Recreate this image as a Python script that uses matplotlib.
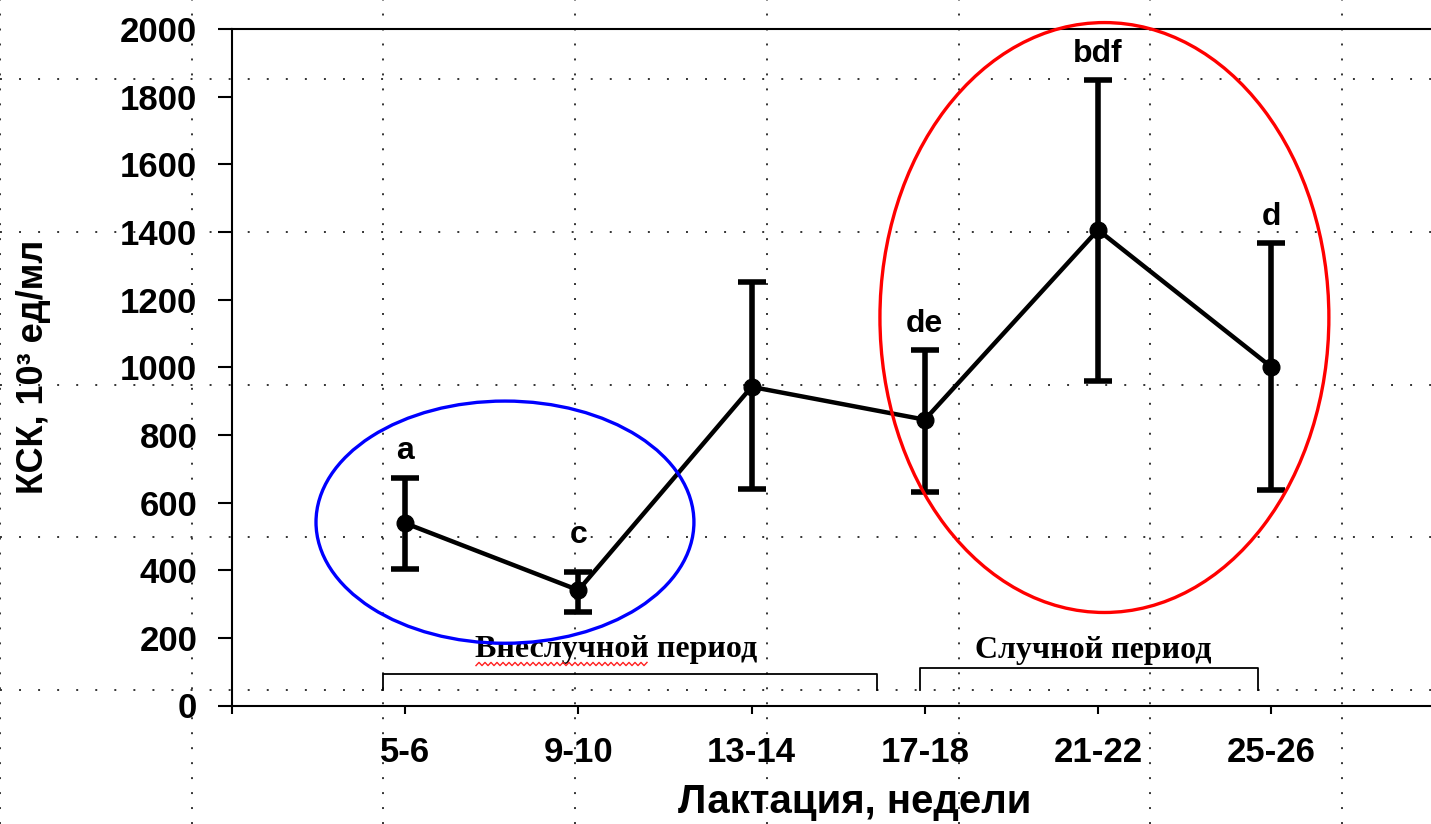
import numpy as np
import matplotlib
matplotlib.use("Agg")
import matplotlib.pyplot as plt
from matplotlib.patches import Ellipse
from matplotlib.lines import Line2D

# ---- data ----
categories = ["5-6", "9-10", "13-14", "17-18", "21-22", "25-26"]
means = [539, 341, 942, 845, 1406, 1001]
upper = [672, 395, 1252, 1050, 1849, 1367]
lower = [403, 276, 640, 631, 959, 637]
letters = ["a", "c", "", "de", "bdf", "d"]
yticks = list(range(0, 2001, 200))
period_labels = ["Внеслучной период", "Случной период"]

# ---- layout helpers ----
W, H = 1431, 824
plt.rcParams['font.family'] = ['Liberation Sans', 'DejaVu Sans']
fig = plt.figure(figsize=(W / 100, H / 100), dpi=100)

x0_px, y0_px, ytop_px, step_px = 232, 705.5, 29, 173.2
ax = fig.add_axes([x0_px / W, (H - y0_px) / H, (W - x0_px) / W, (y0_px - ytop_px) / H])
ax.set_zorder(1)
ax.patch.set_alpha(0)
ax.set_xlim(0, (W - x0_px) / step_px)
ax.set_ylim(0, 2000)

# page grid (decorative dotted lines behind the chart)
vx = np.arange(0, W, 191.7)
hy = np.arange(79, H, 152.75)
for xp in vx:
    fig.add_artist(Line2D([xp / W, xp / W], [0, 1], transform=fig.transFigure,
                          color='#333333', lw=1.4, dashes=(1, 6.7), zorder=0.2))
for yp in hy:
    fig.add_artist(Line2D([0, 1], [1 - yp / H, 1 - yp / H], transform=fig.transFigure,
                          color='#333333', lw=1.4, dashes=(1, 8.8), zorder=0.2))

x = np.arange(1, len(categories) + 1)
m = np.array(means)
yerr = [m - np.array(lower), np.array(upper) - m]
ax.errorbar(x, m, yerr=yerr, fmt='-o', color='black', lw=3.2, ms=12,
            elinewidth=4, capsize=10, capthick=4, zorder=3)

# significance letters
label_offsets = [14, 21, 12, 13, 13, 13]
for xi, up, lab, off in zip(x, upper, letters, label_offsets):
    if lab:
        ax.annotate(lab, (xi, up), xytext=(0, off), textcoords='offset points',
                    ha='center', va='baseline', fontsize=23, fontweight='bold')

# ellipses
ax.add_patch(Ellipse((1.576, 542), 2.182, 716, fill=False, edgecolor='#0000ff',
                     lw=2.4, clip_on=False, zorder=4))
ax.add_patch(Ellipse((5.037, 1147), 2.592, 1744, fill=False, edgecolor='#ff0000',
                     lw=2.4, clip_on=False, zorder=4))

# brackets
def bracket(xl, xr, ytop, ybot):
    ax.plot([xl, xl, xr, xr], [ybot, ytop, ytop, ybot], color='black', lw=1.3,
            solid_joinstyle='round', clip_on=False, zorder=2)

bracket(0.872, 3.724, 93, 46)
bracket(3.972, 5.924, 111, 46)
ax.text(2.217, 143, period_labels[0], ha='center', va='baseline', fontsize=23,
        fontweight='bold', family=['Liberation Serif', 'DejaVu Serif'])
ax.text(4.975, 140, period_labels[1], ha='center', va='baseline', fontsize=23,
        fontweight='bold', family=['Liberation Serif', 'DejaVu Serif'])

# red spell-check squiggle under the first word
sx = np.arange(476, 650, 3.0)
sy = 664 + 1.6 * np.where(np.arange(len(sx)) % 2 == 0, 1, -1)
fig.add_artist(Line2D(sx / W, 1 - sy / H, transform=fig.transFigure,
                      color='#ff2020', lw=1.0, zorder=5))

# axes styling
for s in ['left', 'top', 'bottom']:
    ax.spines[s].set_linewidth(1.5)
ax.spines['right'].set_visible(False)

ax.set_yticks(yticks)
ax.set_yticklabels([str(t) for t in yticks], fontsize=25, fontweight='bold')
ax.set_xticks(np.arange(0, len(categories) + 1))
ax.set_xticklabels([''] + categories, fontsize=25, fontweight='bold')
ax.tick_params(axis='y', direction='out', length=10, width=1.5, pad=15)
ax.tick_params(axis='x', direction='out', length=6, width=1.5, pad=16)

fig.text(855 / W, (H - 813) / H, "Лактация, недели", ha='center', va='baseline',
         fontsize=29, fontweight='bold')
fig.text(34 / W, 1 - 367 / H, "КСК, 10³ ед/мл", rotation=90, ha='center', va='center',
         fontsize=26, fontweight='bold')

fig.savefig("out.png", dpi=100)
